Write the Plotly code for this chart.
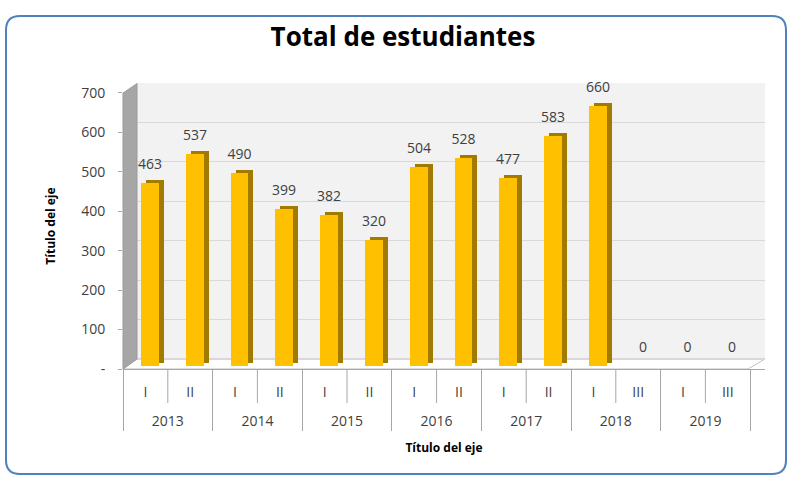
import plotly.graph_objects as go

# ---------------- data ----------------
years = ["2013", "2013", "2014", "2014", "2015", "2015", "2016", "2016",
         "2017", "2017", "2018", "2018", "2019", "2019"]
semesters = ["I", "II", "I", "II", "I", "II", "I", "II",
             "I", "II", "I", "III", "I", "III"]
values = [463, 537, 490, 399, 382, 320, 504, 528, 477, 583, 660, 0, 0, 0]
y_tick_vals = [0, 100, 200, 300, 400, 500, 600, 700]
y_tick_text = ["-", "100", "200", "300", "400", "500", "600", "700"]

title_text = "Total de estudiantes"
axis_title = "Título del eje"

# ---------------- geometry (pixels) ----------------
W, H = 791, 478
L, R, T, B = 123, 26, 83, 109
PW, PH = W - L - R, H - T - B
UNIT = 44.8                      # px per category
X_RANGE = [-0.5, -0.5 + PW / UNIT]
Y_RANGE = [0, 725]
PXV = PH / (Y_RANGE[1] - Y_RANGE[0])   # px per value unit
BACK = 10                        # back wall offset (px up)
SIDE = 14                        # side wall depth (px right)

FRONT_BASE = 3 / PXV
DEPTH_BASE = 6 / PXV
LABEL_BASE = FRONT_BASE + 18

def px_x(px):
    return (px - L) / PW

def px_y(py):
    return (H - B - py) / PH

GOLD = "#FFC000"
GOLD_DARK = "#A27A00"
TXT = "#404040"
FONT = "'Open Sans', Lato, sans-serif"
# inner labels get an empty second line so the year row sits lower
x_cat = [years, [s + "<br> " for s in semesters]]

fig = go.Figure()

# depth (side/top) of the 3D columns
fig.add_trace(go.Bar(
    x=x_cat, y=values, base=DEPTH_BASE, width=0.4, offset=-0.1 + 5 / UNIT,
    marker=dict(color=GOLD_DARK, line=dict(width=0)), hoverinfo="skip",
    showlegend=False))
# front face
fig.add_trace(go.Bar(
    x=x_cat, y=values, base=FRONT_BASE, width=0.4, offset=-0.1,
    marker=dict(color=GOLD, line=dict(width=0)), hoverinfo="skip",
    showlegend=False))
# data labels
fig.add_trace(go.Bar(
    x=x_cat, y=values, base=LABEL_BASE, width=0.4, offset=-0.1,
    marker=dict(color="rgba(0,0,0,0)", line=dict(width=0)),
    text=[str(v) for v in values], textposition="outside", constraintext="none",
    textfont=dict(family=FONT, size=14, color=TXT), cliponaxis=False,
    hoverinfo="skip", showlegend=False))

shapes = []
x0w = px_x(L + SIDE)
# back wall
shapes.append(dict(type="rect", xref="paper", yref="paper",
                   x0=x0w, x1=1, y0=px_y(H - B - BACK), y1=1,
                   fillcolor="#F2F2F2", line=dict(width=0), layer="below"))
# floor
floor = [(L, H - B), (748, H - B), (L + PW, H - B - BACK), (L + SIDE, H - B - BACK)]
shapes.append(dict(type="path", xref="paper", yref="paper",
                   path="M" + " L".join(f"{px_x(a):.5f},{px_y(b):.5f}" for a, b in floor) + " Z",
                   fillcolor="#FFFFFF", line=dict(color="#BFBFBF", width=1), layer="below"))
# side wall
side = [(L, H - B), (L + SIDE, H - B - BACK), (L + SIDE, T), (L, T + BACK)]
shapes.append(dict(type="path", xref="paper", yref="paper",
                   path="M" + " L".join(f"{px_x(a):.5f},{px_y(b):.5f}" for a, b in side) + " Z",
                   fillcolor="#A6A6A6", line=dict(color="#9A9A9A", width=1), layer="above"))
tri = [(L - 1, T - 1), (L + SIDE, T - 1), (L + SIDE, T), (L - 1, T + BACK)]
shapes.append(dict(type="path", xref="paper", yref="paper",
                   path="M" + " L".join(f"{px_x(a):.5f},{px_y(b):.5f}" for a, b in tri) + " Z",
                   fillcolor="#FFFFFF", line=dict(width=0), layer="above"))
# separators between semesters inside each year
for i in range(len(years) - 1):
    if years[i] == years[i + 1]:
        shapes.append(dict(type="line", xref="x", yref="paper",
                           x0=i + 0.5, x1=i + 0.5, y0=0, y1=-34 / PH,
                           line=dict(color="#A6A6A6", width=1)))
# outer rounded border
bx0, bx1, by0, by1, r = 6, 786, 16, 474, 14
pts = (f"M{px_x(bx0 + r)},{px_y(by0)} L{px_x(bx1 - r)},{px_y(by0)} "
       f"Q{px_x(bx1)},{px_y(by0)} {px_x(bx1)},{px_y(by0 + r)} "
       f"L{px_x(bx1)},{px_y(by1 - r)} Q{px_x(bx1)},{px_y(by1)} {px_x(bx1 - r)},{px_y(by1)} "
       f"L{px_x(bx0 + r)},{px_y(by1)} Q{px_x(bx0)},{px_y(by1)} {px_x(bx0)},{px_y(by1 - r)} "
       f"L{px_x(bx0)},{px_y(by0 + r)} Q{px_x(bx0)},{px_y(by0)} {px_x(bx0 + r)},{px_y(by0)} Z")
shapes.append(dict(type="path", xref="paper", yref="paper", path=pts,
                   line=dict(color="#4F81BD", width=2), layer="below"))

fig.update_layout(
    width=W, height=H,
    margin=dict(l=L, r=R, t=T, b=B, pad=0),
    paper_bgcolor="white", plot_bgcolor="rgba(0,0,0,0)",
    font=dict(family=FONT, size=12, color=TXT),
    barmode="overlay", bargap=0,
    title=dict(text=f"<b>{title_text}</b>", x=403 / W, xanchor="center",
               y=1 - 37 / H, yanchor="middle", yref="container",
               font=dict(family=FONT, size=26, color="#000000")),
    xaxis=dict(type="multicategory", range=X_RANGE, showgrid=False,
               showline=True, linecolor="#A6A6A6", linewidth=1,
               ticks="", ticklabelstandoff=10,
               showdividers=True, dividercolor="#A6A6A6", dividerwidth=1,
               tickfont=dict(family=FONT, size=14, color=TXT),
               title=dict(text=f"<b>{axis_title}</b>", standoff=14,
                          font=dict(family=FONT, size=12, color="#000000"))),
    yaxis=dict(range=Y_RANGE, showgrid=False, zeroline=False,
               tickvals=y_tick_vals, ticktext=y_tick_text,
               ticks="outside", ticklen=4, tickcolor="#A6A6A6",
               ticklabelstandoff=10,
               tickfont=dict(family=FONT, size=14, color=TXT),
               title=dict(text=f"<b>{axis_title}</b>", standoff=22,
                          font=dict(family=FONT, size=12, color="#000000"))),
    yaxis2=dict(overlaying="y", range=[Y_RANGE[0] - BACK / PXV, Y_RANGE[1] - BACK / PXV],
                showgrid=True, gridcolor="#D9D9D9", gridwidth=1, zeroline=False,
                tickvals=y_tick_vals, showticklabels=False, ticks=""),
    shapes=shapes,
)
# invisible trace to activate the back-wall grid axis
fig.add_trace(go.Scatter(x=x_cat, y=[None] * len(values), yaxis="y2",
                         mode="markers", showlegend=False, hoverinfo="skip"))

fig.write_html("out.html", config={"displayModeBar": False},
               post_script="document.body.style.margin='0';")
